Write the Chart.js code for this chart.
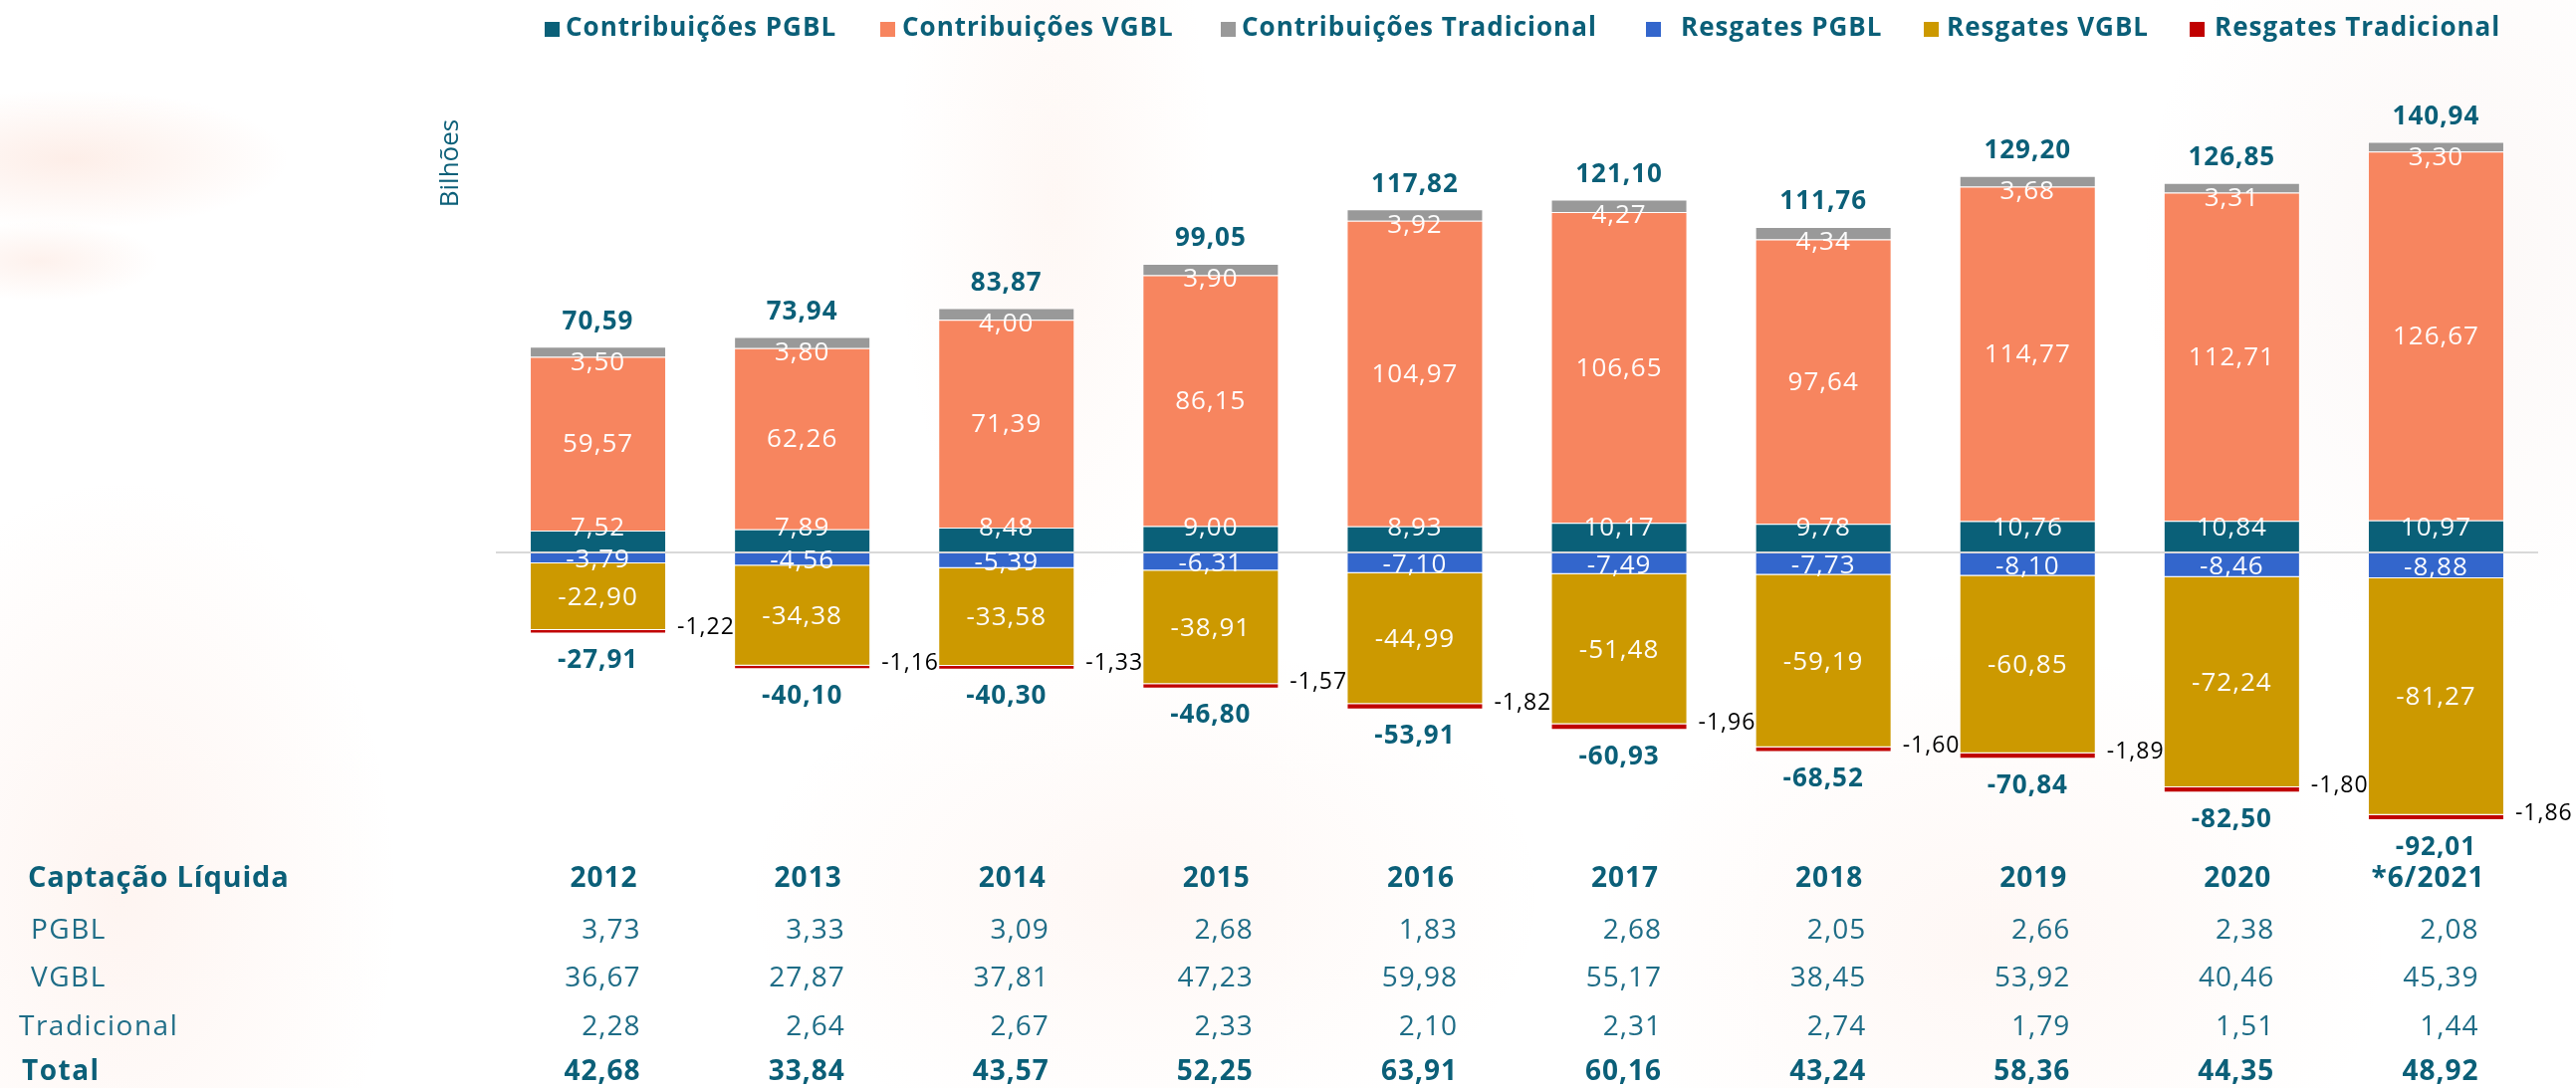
<!DOCTYPE html>
<html>
<head>
<meta charset="utf-8">
<script src="https://cdn.jsdelivr.net/npm/chart.js@4.4.0/dist/chart.umd.min.js"></script>
<style>
  html, body { margin: 0; padding: 0; }
  body {
    width: 2587px; height: 1093px; overflow: hidden;
    background:
      radial-gradient(ellipse 220px 70px at 70px 160px, rgba(246,170,140,0.20), rgba(255,255,255,0) 100%),
      radial-gradient(ellipse 120px 40px at 40px 262px, rgba(246,170,140,0.16), rgba(255,255,255,0) 100%),
      radial-gradient(ellipse 280px 420px at 120px 900px, rgba(246,170,140,0.12), rgba(255,255,255,0) 100%),
      radial-gradient(ellipse 160px 420px at 1060px 200px, rgba(246,180,150,0.10), rgba(255,255,255,0) 100%),
      radial-gradient(ellipse 400px 260px at 1150px 900px, rgba(246,170,140,0.09), rgba(255,255,255,0) 100%),
      radial-gradient(ellipse 300px 400px at 2450px 250px, rgba(230,190,180,0.12), rgba(255,255,255,0) 100%),
      radial-gradient(ellipse 400px 300px at 2000px 950px, rgba(246,170,140,0.09), rgba(255,255,255,0) 100%),
      #ffffff;
  }
  canvas { display: block; }
</style>
</head>
<body>
<canvas id="chart" width="2587" height="1093"></canvas>
<script>
const years = ['2012', '2013', '2014', '2015', '2016', '2017', '2018', '2019', '2020', '*6/2021'];

const contribPGBL = [7.52, 7.89, 8.48, 9.00, 8.93, 10.17, 9.78, 10.76, 10.84, 10.97];
const contribVGBL = [59.57, 62.26, 71.39, 86.15, 104.97, 106.65, 97.64, 114.77, 112.71, 126.67];
const contribTrad = [3.50, 3.80, 4.00, 3.90, 3.92, 4.27, 4.34, 3.68, 3.31, 3.30];
const resgPGBL = [-3.79, -4.56, -5.39, -6.31, -7.10, -7.49, -7.73, -8.10, -8.46, -8.88];
const resgVGBL = [-22.90, -34.38, -33.58, -38.91, -44.99, -51.48, -59.19, -60.85, -72.24, -81.27];
const resgTrad = [-1.22, -1.16, -1.33, -1.57, -1.82, -1.96, -1.60, -1.89, -1.80, -1.86];

const totalContrib = [70.59, 73.94, 83.87, 99.05, 117.82, 121.10, 111.76, 129.20, 126.85, 140.94];
const totalResg = [-27.91, -40.10, -40.30, -46.80, -53.91, -60.93, -68.52, -70.84, -82.50, -92.01];

// tabela "Captação Líquida"
const netPGBL = [3.73, 3.33, 3.09, 2.68, 1.83, 2.68, 2.05, 2.66, 2.38, 2.08];
const netVGBL = [36.67, 27.87, 37.81, 47.23, 59.98, 55.17, 38.45, 53.92, 40.46, 45.39];
const netTrad = [2.28, 2.64, 2.67, 2.33, 2.10, 2.31, 2.74, 1.79, 1.51, 1.44];
const netTotal = [42.68, 33.84, 43.57, 52.25, 63.91, 60.16, 43.24, 58.36, 44.35, 48.92];

const TEAL = '#0b5f78';
const FONT = '"Open Sans", "Noto Sans", sans-serif';

const fmt = v => v.toFixed(2).replace('.', ',');

const segBorder = 'rgba(255,255,255,0.45)';
function ds(label, data, color) {
  return { label, data, backgroundColor: color, borderColor: segBorder, borderWidth: 1 };
}

const data = {
  labels: years,
  datasets: [
    ds('Contribuições PGBL', contribPGBL, '#0a6078'),
    ds('Contribuições VGBL', contribVGBL, '#f7855f'),
    ds('Contribuições Tradicional', contribTrad, '#999999'),
    ds('Resgates PGBL', resgPGBL, '#3366cc'),
    ds('Resgates VGBL', resgVGBL, '#cc9900'),
    ds('Resgates Tradicional', resgTrad, '#c00000'),
  ],
};

function text(ctx, str, x, y, font, color, align) {
  ctx.font = font;
  ctx.fillStyle = color;
  ctx.textAlign = align || 'center';
  ctx.textBaseline = 'middle';
  ctx.fillText(str, x, y);
}

// rótulos das barras
const barLabels = {
  id: 'barLabels',
  afterDatasetsDraw(chart) {
    const ctx = chart.ctx;
    ctx.save();
    ctx.letterSpacing = '1px';
    const white = 'rgba(255,255,255,0.97)';
    const f = '400 26px ' + FONT;
    chart.data.datasets.forEach((d, i) => {
      const meta = chart.getDatasetMeta(i);
      meta.data.forEach((el, j) => {
        const v = d.data[j];
        const mid = (el.y + el.base) / 2;
        if (i === 0) text(ctx, fmt(v), el.x, el.base - 23, f, white);
        else if (i === 1 || i === 4) text(ctx, fmt(v), el.x, mid + 1, f, white);
        else if (i === 2) text(ctx, fmt(v), el.x, el.y + 16, f, white);
        else if (i === 3) text(ctx, fmt(v), el.x, mid + 2, f, white);
        else if (i === 5) text(ctx, fmt(v), el.x + el.width / 2 + 11, mid - 4, '400 23px ' + FONT, '#000', 'left');
      });
    });
    // totais
    const top = chart.getDatasetMeta(2).data;
    const bot = chart.getDatasetMeta(5).data;
    top.forEach((el, j) => text(ctx, fmt(totalContrib[j]), el.x, el.y - 25, '700 26px ' + FONT, TEAL));
    bot.forEach((el, j) => text(ctx, fmt(totalResg[j]), el.x, el.y + 27, '700 26px ' + FONT, TEAL));
    ctx.restore();
  }
};

// legenda, título do eixo e tabela
const extras = {
  id: 'extras',
  afterDraw(chart) {
    const ctx = chart.ctx;
    const x = chart.scales.x;
    ctx.save();

    // legenda
    const legX = [547, 884, 1226, 1653, 1932, 2199];
    const txtX = [568, 906, 1247, 1688, 1955, 2224];
    ctx.letterSpacing = '1px';
    chart.data.datasets.forEach((d, i) => {
      ctx.fillStyle = d.backgroundColor;
      ctx.fillRect(legX[i], 22, 15, 15);
      text(ctx, d.label, txtX[i], 29, '700 26px ' + FONT, TEAL, 'left');
    });
    ctx.letterSpacing = '0px';

    // eixo
    ctx.save();
    ctx.translate(453, 164);
    ctx.rotate(-Math.PI / 2);
    text(ctx, 'Bilhões', 0, 0, '400 26px ' + FONT, TEAL);
    ctx.restore();

    // tabela
    const rowY = [883, 935, 983, 1032, 1077];
    const hdr = '700 28px ' + FONT;
    const reg = '400 28px ' + FONT;
    const light = '#1f6d87';
    ctx.letterSpacing = '0.8px';
    text(ctx, 'Captação Líquida', 28, rowY[0], '700 29px ' + FONT, TEAL, 'left');
    ctx.letterSpacing = '1.5px';
    text(ctx, 'PGBL', 31, rowY[1], reg, light, 'left');
    text(ctx, 'VGBL', 31, rowY[2], reg, light, 'left');
    text(ctx, 'Tradicional', 19, rowY[3], reg, light, 'left');
    text(ctx, 'Total', 22, rowY[4], hdr, TEAL, 'left');
    ctx.letterSpacing = '1px';
    years.forEach((yr, j) => {
      const cx = x.getPixelForValue(j);
      const yrRight = yr.startsWith('*') ? cx + 49 : cx + 40;
      text(ctx, yr, yrRight, rowY[0], hdr, TEAL, 'right');
      text(ctx, fmt(netPGBL[j]), cx + 43, rowY[1], reg, light, 'right');
      text(ctx, fmt(netVGBL[j]), cx + 43, rowY[2], reg, light, 'right');
      text(ctx, fmt(netTrad[j]), cx + 43, rowY[3], reg, light, 'right');
      text(ctx, fmt(netTotal[j]), cx + 43, rowY[4], hdr, TEAL, 'right');
    });
    ctx.restore();
  }
};

const config = {
  type: 'bar',
  data: data,
  options: {
    responsive: false,
    animation: false,
    devicePixelRatio: 1,
    categoryPercentage: 1,
    barPercentage: 0.668,
    layout: { padding: { left: 498, right: 38, top: 116, bottom: 245.5 } },
    plugins: {
      legend: { display: false },
      tooltip: { enabled: false },
    },
    scales: {
      x: { stacked: true, display: false },
      y: {
        stacked: true,
        min: -100,
        max: 150,
        z: 1,
        ticks: { display: false, stepSize: 50 },
        border: { display: false },
        grid: {
          drawTicks: false,
          lineWidth: 2,
          color: c => (c.tick && c.tick.value === 0 ? '#d9d9d9' : 'rgba(0,0,0,0)'),
        },
      },
    },
  },
  plugins: [barLabels, extras],
};

new Chart(document.getElementById('chart'), config);
</script>
</body>
</html>
